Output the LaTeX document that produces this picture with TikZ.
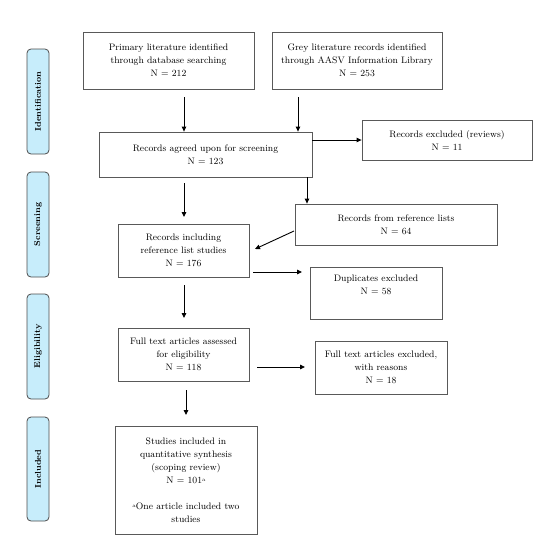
\documentclass[tikz,border=0pt]{standalone}
\usetikzlibrary{arrows.meta}
\begin{document}
\begin{tikzpicture}[x=1pt,y=-1pt,
  box/.style={draw=black!65,line width=0.8pt,align=center,font=\fontsize{9.4}{13}\selectfont,inner sep=2pt},
  phase/.style={draw=black!70,line width=0.8pt,rounded corners=4pt,fill=cyan!22!white,minimum width=22pt},
  phasetext/.style={rotate=90,font=\fontsize{8.4}{10}\selectfont\bfseries},
  arr/.style={line width=0.9pt,-{Triangle[length=5pt,width=4.5pt]}}]
\useasboundingbox (0,0) rectangle (545,550);
% phase labels
\node[phase,minimum height=105pt] (pid) at (38,101.5) {};
\node[phasetext] (tid) at (pid.center) {Identification};
\node[phase,minimum height=105pt] (psc) at (38,224.5) {};
\node[phasetext] (tsc) at (psc.center) {Screening};
\node[phase,minimum height=105pt] (pel) at (38,346.5) {};
\node[phasetext] (tel) at (pel.center) {Eligibility};
\node[phase,minimum height=104pt] (pin) at (38,469) {};
\node[phasetext] (tin) at (pin.center) {Included};
% boxes
\node[box,minimum width=171pt,minimum height=57pt] (prim) at (168.5,60.5) {Primary literature identified\\through database searching\\N = 212};
\node[box,minimum width=170pt,minimum height=57pt] (grey) at (357,60.5) {Grey literature records identified\\through AASV Information Library\\N = 253};
\node[box,minimum width=213pt,minimum height=45pt] (agreed) at (205.5,154.5) {Records agreed upon for screening\\N = 123};
\node[box,minimum width=170pt,minimum height=40pt] (excl) at (447,140) {Records excluded (reviews)\\N = 11};
\node[box,minimum width=131pt,minimum height=53pt] (incl) at (183.5,250.5) {Records including\\reference list studies\\N = 176};
\node[box,minimum width=202pt,minimum height=41pt] (ref) at (396,224.5) {Records from reference lists\\N = 64};
\node[box,minimum width=132pt,minimum height=52pt] (dup) at (376,293) {Duplicates excluded\\N = 58\\\strut};
\node[box,minimum width=131pt,minimum height=53pt] (full) at (183.5,354.5) {Full text articles assessed\\for eligibility\\N = 118};
\node[box,minimum width=132pt,minimum height=53pt] (fullex) at (381,367.5) {Full text articles excluded,\\with reasons\\N = 18};
\node[box,minimum width=142pt,minimum height=108pt] (stud) at (186,480) {Studies included in\\quantitative synthesis\\(scoping review)\\N = 101{\fontsize{5}{5}\selectfont\raisebox{2pt}{a}}\\[13pt]{\fontsize{5}{5}\selectfont\raisebox{2pt}{a}}One article included two\\studies};
% helper coordinates
\coordinate (c1) at (184,97);
\coordinate (c2) at (298,97);
\coordinate (c3) at (184,183);
\coordinate (c3e) at (184,217);
\coordinate (c4) at (307,0);
\coordinate (c5) at (294,231);
\coordinate (c5e) at (255,249);
\coordinate (c6) at (253,272);
\coordinate (c6e) at (302,272);
\coordinate (c7) at (184,285);
\coordinate (c7e) at (184,318);
\coordinate (c8) at (257,367);
\coordinate (c8e) at (305,367);
\coordinate (c9) at (186,390);
\coordinate (c9e) at (186,415);
% connectors
\draw[arr] (c1) -- (c1 |- agreed.north);
\draw[arr] (c2) -- (c2 |- agreed.north);
\draw[arr] (agreed.east |- excl.west) -- (excl.west);
\draw[arr] (c3) -- (c3e);
\draw[arr] (c4 |- agreed.south) -- (c4 |- ref.north);
\draw[arr] (c5) -- (c5e);
\draw[arr] (c6) -- (c6e);
\draw[arr] (c7) -- (c7e);
\draw[arr] (c8) -- (c8e);
\draw[arr] (c9) -- (c9e);
\end{tikzpicture}
\end{document}
